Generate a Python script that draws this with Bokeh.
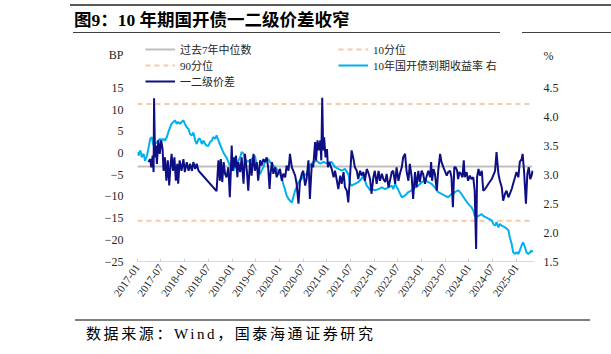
from datetime import datetime
from bokeh.plotting import figure
from bokeh.layouts import column
from bokeh.models import (Range1d, LinearAxis, FixedTicker, DatetimeTickFormatter,
                          PrintfTickFormatter, Legend, LegendItem, Div)
from bokeh.embed import file_html
from bokeh.resources import INLINE

# ---------------- data ----------------
# 一二级价差 (BP), decimal year
spread_year = [
    2017.23, 2017.27, 2017.29, 2017.32, 2017.34, 2017.35, 2017.37, 2017.39, 2017.41, 2017.44,
    2017.47, 2017.50, 2017.53, 2017.55, 2017.58, 2017.61, 2017.64, 2017.67, 2017.70, 2017.72,
    2017.75, 2017.78, 2017.81, 2017.84, 2017.86, 2017.89, 2017.93, 2017.97, 2018.00, 2018.04,
    2018.08, 2018.11, 2018.15, 2018.18, 2018.22, 2018.25, 2018.29, 2018.67, 2018.71, 2018.74,
    2018.76, 2018.79, 2018.82, 2018.85, 2018.88, 2018.92, 2018.95, 2018.97, 2018.99, 2019.01,
    2019.04, 2019.06, 2019.08, 2019.11, 2019.13, 2019.17, 2019.20, 2019.24, 2019.27, 2019.31,
    2019.34, 2019.38, 2019.41, 2019.45, 2019.48, 2019.52, 2019.55, 2019.59, 2019.62, 2019.66,
    2019.69, 2019.73, 2019.76, 2019.79, 2019.81, 2019.84, 2019.87, 2019.91, 2019.94, 2019.98,
    2020.01, 2020.05, 2020.08, 2020.12, 2020.15, 2020.19, 2020.22, 2020.26, 2020.29, 2020.33,
    2020.36, 2020.40, 2020.43, 2020.47, 2020.50, 2020.54, 2020.57, 2020.61, 2020.64, 2020.68,
    2020.71, 2020.75, 2020.77, 2020.80, 2020.83, 2020.86, 2020.88, 2020.90, 2020.92, 2020.94,
    2020.97, 2021.00, 2021.02, 2021.05, 2021.10, 2021.14, 2021.17, 2021.21, 2021.24, 2021.28,
    2021.31, 2021.35, 2021.38, 2021.42, 2021.45, 2021.49, 2021.52, 2021.56, 2021.59, 2021.63,
    2021.66, 2021.70, 2021.73, 2021.77, 2021.80, 2021.84, 2021.87, 2021.91, 2021.94, 2021.98,
    2022.01, 2022.05, 2022.09, 2022.12, 2022.16, 2022.19, 2022.23, 2022.26, 2022.30, 2022.33,
    2022.37, 2022.40, 2022.44, 2022.47, 2022.51, 2022.54, 2022.58, 2022.61, 2022.65, 2022.68,
    2022.72, 2022.75, 2022.79, 2022.82, 2022.86, 2022.89, 2022.93, 2022.96, 2023.00, 2023.03,
    2023.07, 2023.10, 2023.14, 2023.18, 2023.20, 2023.22, 2023.25, 2023.28, 2023.32, 2023.35,
    2023.39, 2023.42, 2023.46, 2023.49, 2023.53, 2023.56, 2023.60, 2023.63, 2023.66, 2023.69,
    2023.72, 2023.75, 2023.77, 2023.80, 2023.83, 2023.86, 2023.89, 2023.91, 2023.95, 2023.98,
    2024.02, 2024.05, 2024.09, 2024.12, 2024.15, 2024.17, 2024.20, 2024.23, 2024.27, 2024.30,
    2024.34, 2024.41, 2024.48, 2024.55, 2024.58, 2024.62, 2024.65, 2024.69, 2024.72, 2024.76,
    2024.79, 2024.83, 2024.86, 2024.90, 2024.93, 2024.97, 2025.00, 2025.04, 2025.07, 2025.11,
    2025.13, 2025.16, 2025.20, 2025.23, 2025.26, 2025.29, 2025.32, 2025.34,
]
spread_bp = [
    -2.1, -1.4, -3.3, -0.6, -4.4, 12.6, -1.0, 1.7, -2.5, 2.9,
    -0.2, 2.9, 0.9, -4.1, -1.0, -6.4, -1.7, -7.5, -2.5, -0.2,
    -4.1, -1.0, -6.4, -2.5, -7.1, -1.7, -4.1, -1.4, -4.4, -2.1,
    -4.1, -2.5, -4.1, -2.1, -3.7, -2.5, -4.1, -8.8, -1.7, -6.4,
    -1.4, -6.7, -2.1, -4.8, -5.6, -3.3, -10.2, -4.8, 1.7, -4.1,
    -1.0, -3.3, -0.6, -5.6, -2.1, -4.4, -1.0, -7.1, -0.2, -4.1,
    -8.7, -1.4, -5.2, -0.2, -4.1, -2.1, -6.4, -1.7, -2.9, -1.4,
    -2.1, -1.0, -3.3, -8.3, -4.8, -2.1, -4.8, -3.3, -5.6, -4.4,
    -3.7, -6.4, -4.8, -5.6, -2.9, -4.1, -0.2, -3.3, -4.1, -5.2,
    -7.1, -11.7, -6.7, -4.8, -4.1, -7.5, -6.0, -1.7, -10.6, -2.5,
    -3.3, 2.5, -1.7, 2.9, 0.6, 2.9, -1.7, 12.7, 0.6, 3.6,
    -1.0, 0.9, -3.3, -2.1, -3.7, -5.6, -4.1, -6.4, -8.3, -5.2,
    -7.1, -4.4, -7.9, -8.7, -11.4, -4.8, 0.6, -1.4, -3.3, -4.1,
    -6.0, -4.1, -5.2, -4.4, -6.4, -3.7, -4.4, -6.0, -9.4, -5.6,
    -4.1, -7.1, -4.1, -6.4, -4.8, -6.0, -6.7, -4.8, -7.9, -6.4,
    -4.4, -4.1, -7.1, -3.3, -6.4, -4.8, -3.3, -1.0, -0.2, -4.1,
    -6.4, -2.5, -5.6, -10.6, -4.4, -7.9, -4.1, -6.7, -4.1, -4.8,
    -7.1, -5.6, -4.1, -5.6, -2.1, -6.4, -3.7, -4.8, -8.7, -4.1,
    -0.2, -2.1, -3.3, -4.1, -5.2, -4.4, -4.1, -5.6, -12.5, -3.3,
    -3.3, -4.1, -6.0, -4.4, -4.8, -5.6, -1.7, -5.6, -4.4, -6.4,
    -5.2, -6.0, -5.6, -8.7, -22.1, -5.6, -3.7, -5.2, -4.1, -8.7,
    -8.3, -7.1, -6.0, -4.1, 0.2, -4.8, -6.4, -7.9, -11.0, -9.4,
    -8.7, -10.2, -9.4, -8.3, -7.1, -5.6, -4.4, -5.6, -2.1, -1.4,
    -0.2, -4.1, -11.7, -4.8, -3.3, -6.0, -5.2, -4.1,
]

# 10年国开债到期收益率 (%), decimal year
yield_year = [
    2017.00, 2017.02, 2017.06, 2017.09, 2017.13, 2017.16, 2017.20, 2017.23, 2017.27, 2017.30,
    2017.34, 2017.37, 2017.41, 2017.44, 2017.48, 2017.51, 2017.55, 2017.58, 2017.62, 2017.65,
    2017.69, 2017.72, 2017.76, 2017.79, 2017.83, 2017.86, 2017.90, 2017.93, 2017.97, 2018.00,
    2018.04, 2018.08, 2018.11, 2018.15, 2018.18, 2018.22, 2018.25, 2018.29, 2018.32, 2018.36,
    2018.39, 2018.43, 2018.46, 2018.50, 2018.53, 2018.57, 2018.60, 2018.64, 2018.67, 2018.71,
    2018.74, 2018.78, 2018.81, 2018.85, 2018.88, 2018.92, 2018.95, 2018.99, 2019.03, 2019.10,
    2019.17, 2019.20, 2019.24, 2019.27, 2019.31, 2019.34, 2019.38, 2019.41, 2019.45, 2019.48,
    2019.52, 2019.55, 2019.59, 2019.62, 2019.66, 2019.69, 2019.73, 2019.76, 2019.80, 2019.87,
    2019.94, 2020.01, 2020.05, 2020.08, 2020.12, 2020.15, 2020.19, 2020.22, 2020.26, 2020.29,
    2020.33, 2020.36, 2020.40, 2020.43, 2020.47, 2020.50, 2020.57, 2020.64, 2020.71, 2020.78,
    2020.86, 2020.93, 2021.00, 2021.10, 2021.17, 2021.24, 2021.31, 2021.38, 2021.45, 2021.49,
    2021.52, 2021.59, 2021.66, 2021.73, 2021.77, 2021.80, 2021.84, 2021.87, 2021.91, 2021.94,
    2022.01, 2022.09, 2022.16, 2022.23, 2022.30, 2022.37, 2022.40, 2022.44, 2022.51, 2022.58,
    2022.65, 2022.72, 2022.79, 2022.86, 2022.93, 2023.00, 2023.07, 2023.14, 2023.21, 2023.28,
    2023.32, 2023.35, 2023.42, 2023.49, 2023.56, 2023.60, 2023.63, 2023.67, 2023.70, 2023.77,
    2023.81, 2023.84, 2023.91, 2023.98, 2024.05, 2024.09, 2024.12, 2024.16, 2024.20, 2024.27,
    2024.30, 2024.34, 2024.41, 2024.48, 2024.51, 2024.55, 2024.58, 2024.62, 2024.65, 2024.69,
    2024.76, 2024.83, 2024.86, 2024.90, 2024.93, 2024.97, 2025.00, 2025.04, 2025.07, 2025.11,
    2025.14, 2025.18, 2025.21, 2025.25, 2025.29, 2025.32, 2025.34,
]
yield_pct = [
    3.39, 3.33, 3.42, 3.30, 3.36, 3.24, 3.33, 3.45, 3.62, 3.65,
    3.50, 3.53, 3.56, 3.59, 3.62, 3.59, 3.62, 3.59, 3.65, 3.73,
    3.82, 3.88, 3.91, 3.94, 3.88, 3.91, 3.88, 3.91, 3.94, 3.88,
    3.82, 3.79, 3.70, 3.68, 3.73, 3.59, 3.53, 3.62, 3.62, 3.53,
    3.59, 3.53, 3.50, 3.50, 3.56, 3.59, 3.65, 3.62, 3.68, 3.59,
    3.53, 3.45, 3.39, 3.33, 3.30, 3.22, 3.16, 3.10, 3.07, 3.19,
    3.30, 3.39, 3.36, 3.27, 3.22, 3.24, 3.22, 3.27, 3.30, 3.33,
    3.16, 3.07, 3.01, 3.07, 3.13, 3.22, 3.24, 3.27, 3.22, 3.16,
    3.10, 3.01, 2.93, 2.84, 2.73, 2.64, 2.58, 2.55, 2.52, 2.61,
    2.73, 2.78, 2.87, 2.90, 2.93, 2.99, 3.01, 3.16, 3.22, 3.24,
    3.19, 3.22, 3.19, 3.22, 3.13, 3.10, 3.07, 3.10, 3.01, 2.84,
    2.81, 2.84, 2.87, 2.93, 2.99, 2.90, 2.81, 2.78, 2.73, 2.75,
    2.73, 2.75, 2.78, 2.75, 2.78, 2.81, 2.75, 2.84, 2.73, 2.61,
    2.64, 2.70, 2.73, 2.78, 2.81, 2.87, 2.90, 2.87, 2.84, 2.78,
    2.73, 2.70, 2.67, 2.64, 2.61, 2.64, 2.67, 2.67, 2.70, 2.73,
    2.70, 2.67, 2.58, 2.50, 2.44, 2.38, 2.29, 2.27, 2.29, 2.32,
    2.29, 2.27, 2.24, 2.21, 2.15, 2.12, 2.18, 2.09, 2.15, 2.12,
    2.09, 2.04, 1.92, 1.80, 1.66, 1.63, 1.66, 1.63, 1.69, 1.78,
    1.83, 1.75, 1.66, 1.63, 1.66, 1.69, 1.66,
]

median_7y = -3.1      # 过去7年中位数
pct10 = -15.6         # 10分位
pct90 = 11.3          # 90分位

title_text = "图9：10 年期国开债一二级价差收窄"
source_text = "数据来源：Wind，国泰海通证券研究"
tick_dates = ["2017-01", "2017-07", "2018-01", "2018-07", "2019-01", "2019-07",
              "2020-01", "2020-07", "2021-01", "2021-07", "2022-01", "2022-07",
              "2023-01", "2023-07", "2024-01", "2024-07", "2025-01"]
left_ticks = [-25, -20, -15, -10, -5, 0, 5, 10, 15]
right_ticks = [1.5, 2.0, 2.5, 3.0, 3.5, 4.0, 4.5]
left_unit, right_unit = "BP", "%"


def to_dt(y):
    yr = int(y)
    a, b = datetime(yr, 1, 1), datetime(yr + 1, 1, 1)
    return a + (b - a) * (y - yr)


def to_ms(d):
    return (d - datetime(1970, 1, 1)).total_seconds() * 1000.0


spread_x = [to_dt(v) for v in spread_year]
yield_x = [to_dt(v) for v in yield_year]
x0, x1 = to_dt(2017.0), to_dt(2025.36)
line_x = [x0, to_dt(2025.33)]

SERIF = "'Liberation Serif', 'Noto Sans CJK SC'"
AXIS_COL = "#262626"

# ---------------- header (title + rules) ----------------
header = Div(width=611, height=37, margin=0, text=f"""
<div style="position:relative;width:611px;height:37px;overflow:hidden;">
  <div style="position:absolute;left:70px;top:4px;width:541px;border-top:2.5px solid #595959;"></div>
  <div style="position:absolute;left:74px;top:9px;white-space:nowrap;font-family:{SERIF};
       font-weight:bold;font-size:17.5px;line-height:22px;color:#000;">{title_text}</div>
  <div style="position:absolute;left:73px;top:32px;width:427px;border-top:1.5px solid #404040;"></div>
  <div style="position:absolute;left:522px;top:32px;width:89px;border-top:1.5px solid #404040;"></div>
</div>""")

# ---------------- main chart ----------------
p = figure(width=611, height=277, x_axis_type="datetime",
           x_range=Range1d(x0, x1), y_range=Range1d(-25, 26.6),
           output_backend="svg", toolbar_location=None, title=None,
           min_border_left=137, min_border_right=78, min_border_top=0,
           min_border_bottom=53, margin=0)
p.extra_y_ranges = {"pct": Range1d(1.5, 5.37)}
p.outline_line_color = None
p.xgrid.visible = False
p.ygrid.visible = False

r_med = p.line(line_x, [median_7y, median_7y], line_color="#bfbfbf", line_width=2)
r_p10 = p.line(line_x, [pct10, pct10], line_color="#f9c8a4", line_width=2, line_dash="5 4")
r_p90 = p.line(line_x, [pct90, pct90], line_color="#f9c8a4", line_width=2, line_dash="5 4")
r_yld = p.line(yield_x, yield_pct, line_color="#00b0f0", line_width=2, y_range_name="pct")
r_spr = p.line(spread_x, spread_bp, line_color="#0f0f85", line_width=2)

xa = p.xaxis[0]
xa.ticker = FixedTicker(ticks=[to_ms(datetime.strptime(t, "%Y-%m")) for t in tick_dates])
xa.formatter = DatetimeTickFormatter(years="%Y-%m", months="%Y-%m", days="%Y-%m")
xa.major_label_orientation = 0.96
xa.axis_line_color = "#d9d9d9"
xa.major_tick_line_color = "#d0d0d0"
xa.major_tick_in = 3
xa.major_tick_out = 0
xa.minor_tick_line_color = None
xa.major_label_standoff = 4
xa.major_label_text_font = SERIF
xa.major_label_text_font_size = "11px"
xa.major_label_text_color = AXIS_COL

ya = p.yaxis[0]
# the unit label "BP" sits above the top tick, like the reference
ya.ticker = FixedTicker(ticks=left_ticks + [22.5])
ya.major_label_overrides = {22.5: left_unit}
ya.axis_line_color = None
ya.major_tick_line_color = None
ya.minor_tick_line_color = None
ya.major_tick_out = 0
ya.major_tick_in = 0
ya.major_label_standoff = 14
ya.major_label_text_font = SERIF
ya.major_label_text_font_size = "12px"
ya.major_label_text_color = AXIS_COL

ra = LinearAxis(y_range_name="pct", ticker=FixedTicker(ticks=right_ticks + [5.05]),
                formatter=PrintfTickFormatter(format="%.1f"))
ra.major_label_overrides = {5.05: right_unit}
ra.axis_line_color = None
ra.major_tick_line_color = None
ra.minor_tick_line_color = None
ra.major_tick_out = 0
ra.major_tick_in = 0
ra.major_label_standoff = 10
ra.major_label_text_font = SERIF
ra.major_label_text_font_size = "12px"
ra.major_label_text_color = AXIS_COL
p.add_layout(ra, "right")


def make_legend(items, loc):
    return Legend(items=items, location=loc, orientation="vertical",
                  glyph_width=30, glyph_height=12, label_height=12, label_standoff=5,
                  spacing=-2, padding=0, margin=0, border_line_color=None,
                  background_fill_alpha=0, label_text_font=SERIF,
                  label_text_font_size="11px", label_text_color=AXIS_COL)


leg_a = make_legend([LegendItem(label="过去7年中位数", renderers=[r_med]),
                     LegendItem(label="90分位", renderers=[r_p90]),
                     LegendItem(label="一二级价差", renderers=[r_spr])], (8, 172))
leg_b = make_legend([LegendItem(label="10分位", renderers=[r_p10]),
                     LegendItem(label="10年国开债到期收益率 右", renderers=[r_yld])], (201, 188))
p.add_layout(leg_a)
p.add_layout(leg_b)

# ---------------- footer (rule + source) ----------------
footer = Div(width=611, height=40, margin=0, text=f"""
<div style="position:relative;width:611px;height:40px;overflow:hidden;">
  <div style="position:absolute;left:75px;top:5px;width:515px;border-top:2px solid #7f7f7f;"></div>
  <div style="position:absolute;left:86px;top:11px;white-space:nowrap;font-family:{SERIF};
       font-size:15px;letter-spacing:2.6px;line-height:19px;color:#000;">{source_text}</div>
</div>""")

layout = column(header, p, footer, spacing=0, margin=0)
open("out.html", "w").write(file_html(layout, INLINE))
